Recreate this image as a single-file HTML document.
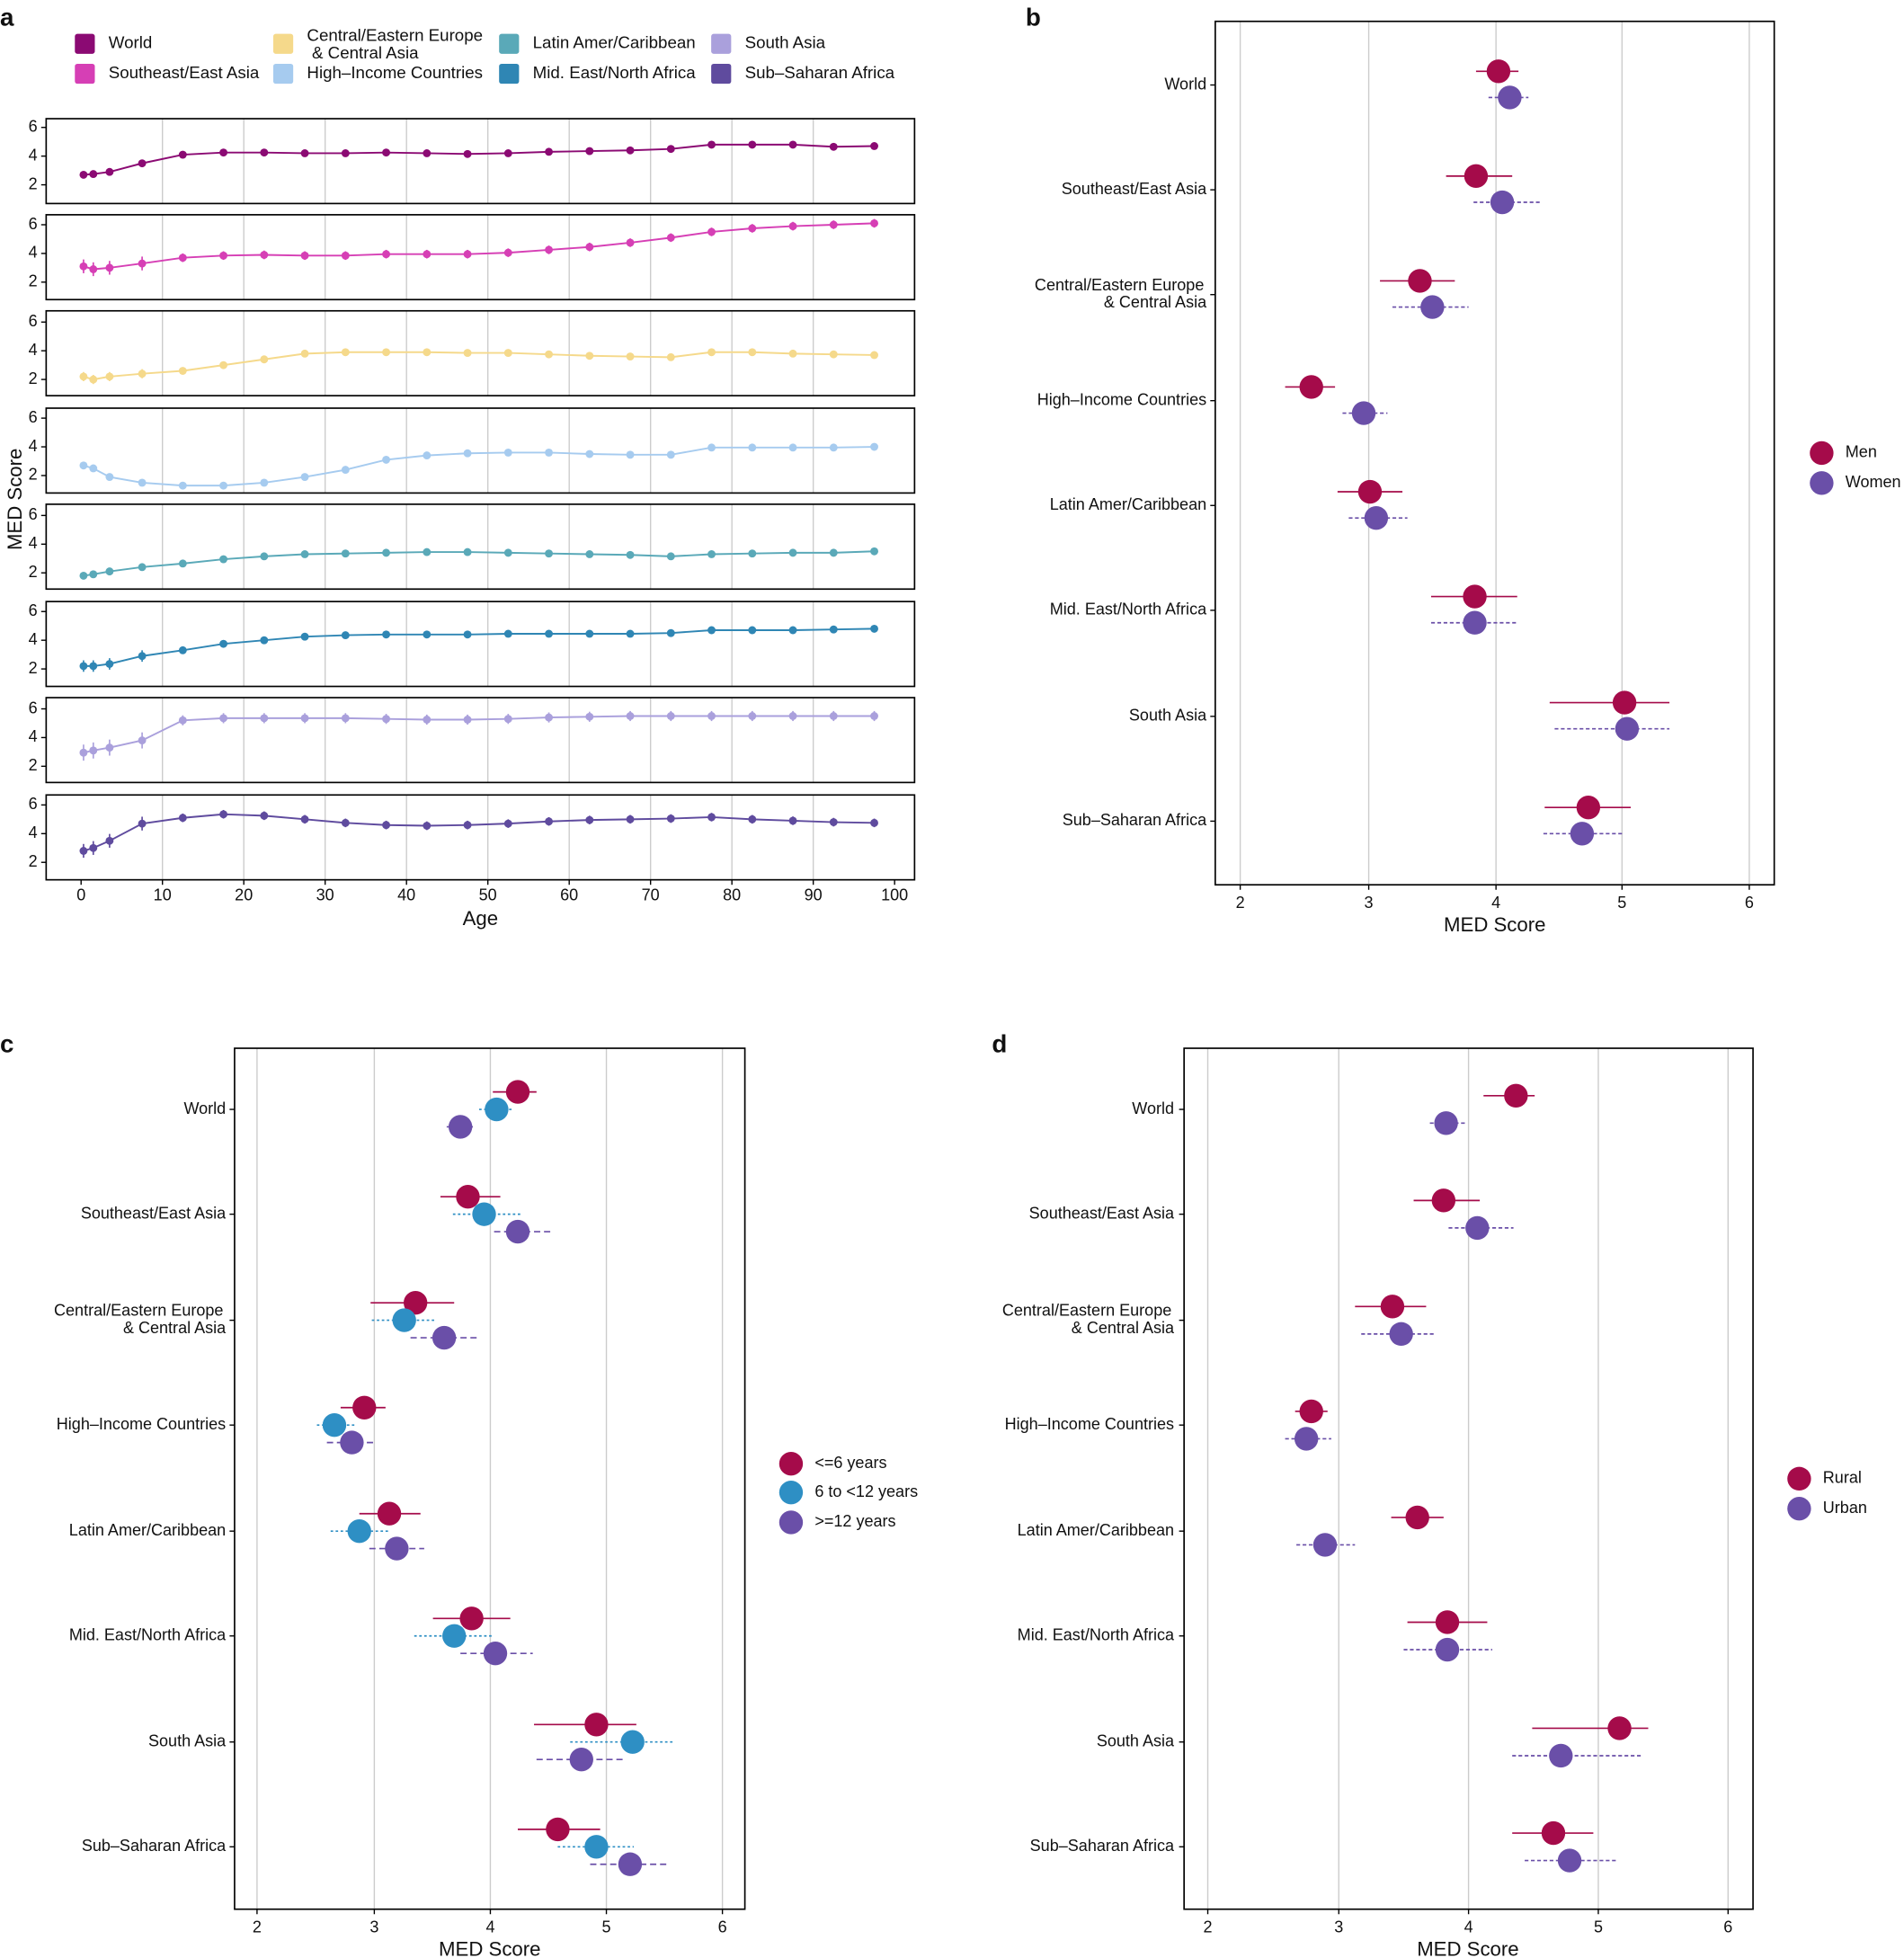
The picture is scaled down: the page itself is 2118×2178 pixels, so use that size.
<!DOCTYPE html>
<html><head><meta charset="utf-8"><style>
html,body{margin:0;padding:0;background:#fff}
svg{display:block}
text{font-family:"Liberation Sans",sans-serif;fill:#111}
</style></head><body>
<svg id="s" width="2118" height="2178" viewBox="0 0 1526 1569" xmlns="http://www.w3.org/2000/svg"></svg>
<script>
const S=document.getElementById('s');let h='';
function T(x,y,t,o={}){h+=`<text x="${x}" y="${y}" font-size="${o.fs||13}" text-anchor="${o.a||'start'}" ${o.b?'font-weight="bold"':''} ${o.tr?`transform="${o.tr}"`:''} dominant-baseline="middle">${t}</text>`;}
function L(x1,y1,x2,y2,c,w,d){h+=`<line x1="${x1}" y1="${y1}" x2="${x2}" y2="${y2}" stroke="${c}" stroke-width="${w||1}" ${d?`stroke-dasharray="${d}"`:''}/>`;}
function C(x,y,r,c){h+=`<circle cx="${x}" cy="${y}" r="${r}" fill="${c}"/>`;}
function R(x,y,w,hh,c){h+=`<rect x="${x}" y="${y}" width="${w}" height="${hh}" fill="none" stroke="${c||'#000'}" stroke-width="1.2"/>`;}
T(0,15,'a',{fs:20,b:1});T(822,15,'b',{fs:20,b:1});T(0,838,'c',{fs:20,b:1});T(795,838,'d',{fs:20,b:1});
const cols=['#8b0a73','#d63fb5','#f5d98b','#a6cbef','#5aa9b8','#2f86b4','#aaa0dc','#5f4b9e'];
const leg=[[68,35,'World',0],[68,59,'Southeast/East Asia',1],[227,35,'',2],[227,59,'High–Income Countries',3],[408,35,'Latin Amer/Caribbean',4],[408,59,'Mid. East/North Africa',5],[578,35,'South Asia',6],[578,59,'Sub–Saharan Africa',7]];
leg.forEach(l=>{h+=`<rect x="${l[0]-8}" y="${l[1]-8}" width="16" height="16" fill="${cols[l[3]]}" rx="2"/>`;if(l[2])T(l[0]+19,l[1],l[2],{fs:13.5});});
T(246,29,'Central/Eastern Europe',{fs:13.5});T(250,43,'&amp; Central Asia',{fs:13.5});
const ages=[0.3,1.5,3.5,7.5];for(let a=12.5;a<=97.6;a+=5)ages.push(a);
const ax=a=>65+a*6.52;
const data=[
[2.7,2.75,2.9,3.5,4.1,4.25,4.25,4.2,4.2,4.25,4.2,4.15,4.2,4.3,4.35,4.4,4.5,4.8,4.8,4.8,4.65,4.7],
[3.1,2.9,3.0,3.3,3.7,3.85,3.9,3.85,3.85,3.95,3.95,3.95,4.05,4.25,4.45,4.75,5.1,5.5,5.75,5.9,6.0,6.1],
[2.2,2.0,2.2,2.4,2.6,3.0,3.4,3.8,3.9,3.9,3.9,3.85,3.85,3.75,3.65,3.6,3.55,3.9,3.9,3.8,3.75,3.7],
[2.7,2.5,1.9,1.5,1.3,1.3,1.5,1.9,2.4,3.1,3.4,3.55,3.6,3.6,3.5,3.45,3.45,3.95,3.95,3.95,3.95,4.0],
[1.8,1.9,2.1,2.4,2.65,2.95,3.15,3.3,3.35,3.4,3.45,3.45,3.4,3.35,3.3,3.25,3.15,3.3,3.35,3.4,3.4,3.5],
[2.2,2.2,2.35,2.9,3.3,3.75,4.0,4.25,4.35,4.4,4.4,4.4,4.45,4.45,4.45,4.45,4.5,4.7,4.7,4.7,4.75,4.8],
[2.95,3.1,3.3,3.8,5.2,5.35,5.35,5.35,5.35,5.3,5.25,5.25,5.3,5.4,5.45,5.5,5.5,5.5,5.5,5.5,5.5,5.5],
[2.8,3.0,3.5,4.7,5.1,5.35,5.25,5.0,4.75,4.6,4.55,4.6,4.7,4.85,4.95,5.0,5.05,5.15,5.0,4.9,4.8,4.75]];
const tops=[95,172,249,327,404,482,559,637];const b2=[148,226,304,381,459,536,614,691];
const eb=[0.06,0.3,0.2,0.1,0.12,0.25,0.35,0.3];
for(let i=0;i<8;i++){
 const t=tops[i],yv=v=>b2[i]-(v-2)*11.5;
 for(let g=10;g<=90;g+=10)L(ax(g),t,ax(g),t+68,'#ccc',1);
 R(37,t,696,68);
 [2,4,6].forEach(v=>{L(33,yv(v),37,yv(v),'#000');T(30,yv(v),v,{a:'end'});});
 let p=data[i].map((v,k)=>ax(ages[k])+','+yv(v)).join(' ');
 h+=`<polyline points="${p}" fill="none" stroke="${cols[i]}" stroke-width="1.4"/>`;
 data[i].forEach((v,k)=>{const e=eb[i]*11.5*(k<4?1.6:1);L(ax(ages[k]),yv(v)-e,ax(ages[k]),yv(v)+e,cols[i],1.2);C(ax(ages[k]),yv(v),3.2,cols[i]);});
}
for(let g=0;g<=100;g+=10){L(ax(g),705,ax(g),709,'#000');T(ax(g),718,g,{a:'middle'});}
T(385,737,'Age',{fs:16,a:'middle'});
T(13,400,'MED Score',{fs:16,a:'middle',tr:'rotate(-90 13 400)'});
const regs=['World','Southeast/East Asia','','High–Income Countries','Latin Amer/Caribbean','Mid. East/North Africa','South Asia','Sub–Saharan Africa'];
function dot(box,ticks,labX,rows,series,offs,legend){
 const [x0,y0,x1,y1]=box;
 ticks.forEach((tx,i)=>{L(tx,y0,tx,y1,'#ccc',1);L(tx,y1,tx,y1+4,'#000');T(tx,y1+15,i+2,{a:'middle'});});
 R(x0,y0,x1-x0,y1-y0);
 rows.forEach((ry,i)=>{L(x0-4,ry,x0,ry,'#000');
  if(regs[i])T(labX,ry,regs[i],{a:'end'});else{T(labX-2,ry-7,'Central/Eastern Europe',{a:'end'});T(labX,ry+7,'&amp; Central Asia',{a:'end'});}
  series.forEach((s,j)=>{const d=s.d[i],y=ry+offs[j];L(d[1],y,d[2],y,s.c,1.2,s.dash);C(d[0],y,9.5,s.c);});
 });
 T((ticks[0]+ticks[4])/2,y1+33,'MED Score',{fs:16,a:'middle'});
 legend.forEach(l=>{C(l[0],l[1],9.5,l[3]);T(l[0]+19,l[1],l[2]);});
}
const men='#a50b4a',wom='#6a4fa8',blu='#2e8fc4';
const rb=[68,152,236,321,405,489,574,658];
dot([974,17,1422,709],[994,1097,1199,1300,1402],967,rb,[
 {c:men,d:[[1201,1183,1217],[1183,1159,1212],[1138,1106,1166],[1051,1030,1070],[1098,1072,1124],[1182,1147,1216],[1302,1242,1338],[1273,1238,1307]]},
 {c:wom,dash:'3,2',d:[[1210,1193,1225],[1204,1181,1236],[1148,1116,1177],[1093,1076,1112],[1103,1081,1128],[1182,1147,1216],[1304,1246,1338],[1268,1237,1301]]}
],[-11,10],[[1460,363,'Men',men],[1460,387,'Women',wom]]);
const rc=[889,973,1058,1142,1227,1311,1396,1480];
dot([188,840,597,1530],[206,300,393,486,579],181,rc,[
 {c:men,d:[[415,395,430],[375,353,401],[333,297,364],[292,273,309],[312,288,337],[378,347,409],[478,428,510],[447,415,481]]},
 {c:blu,dash:'2,2',d:[[398,384,412],[388,363,417],[324,298,350],[268,254,286],[288,265,312],[364,332,396],[507,457,540],[478,447,508]]},
 {c:wom,dash:'5,3',d:[[369,358,381],[415,396,441],[356,329,382],[282,262,302],[318,296,340],[397,369,427],[466,430,500],[505,473,537]]}
],[-14,0,14],[[634,1173,'&lt;=6 years',men],[634,1196,'6 to &lt;12 years',blu],[634,1220,'&gt;=12 years',wom]]);
dot([949,840,1405,1530],[968,1073,1177,1281,1385],941,rc,[
 {c:men,d:[[1215,1189,1230],[1157,1133,1186],[1116,1086,1143],[1051,1038,1064],[1136,1115,1157],[1160,1128,1192],[1298,1228,1321],[1245,1212,1277]]},
 {c:wom,dash:'3,2',d:[[1159,1146,1175],[1184,1161,1213],[1123,1091,1151],[1047,1030,1067],[1062,1039,1086],[1160,1125,1196],[1251,1212,1317],[1258,1222,1296]]}
],[-11,11],[[1442,1185,'Rural',men],[1442,1209,'Urban',wom]]);
S.innerHTML=h;
</script>
</body></html>
